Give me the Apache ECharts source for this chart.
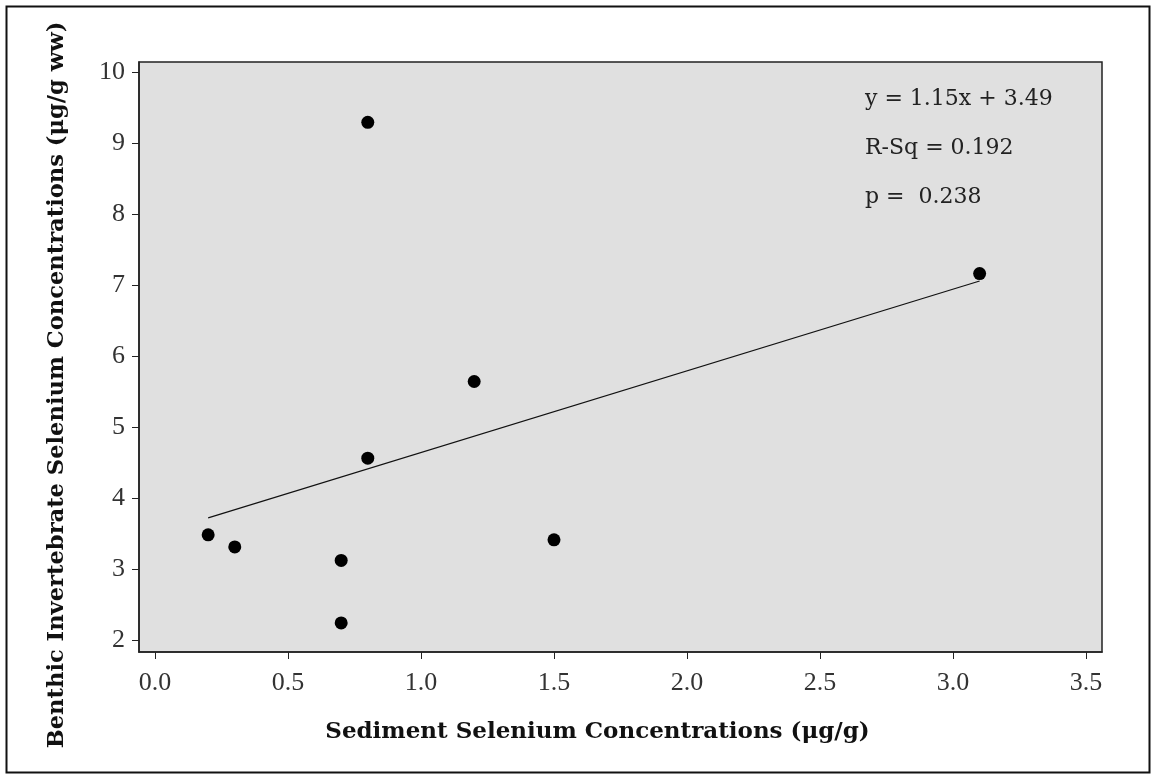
<!DOCTYPE html>
<html>
<head>
<meta charset="utf-8">
<script src="https://cdn.jsdelivr.net/npm/echarts@6/dist/echarts.min.js"></script>
<style>
  html, body { margin: 0; padding: 0; background: #fff; }
  #chart { width: 1151px; height: 774px; }
</style>
</head>
<body>
<div id="chart"></div>
<script>
// sediment Se (x) vs benthic invertebrate Se (y)
const sedimentSe = [0.2, 0.3, 0.7, 0.7, 0.8, 0.8, 1.2, 1.5, 3.1]
const invertSe = [3.48, 3.31, 3.12, 2.24, 4.56, 9.29, 5.64, 3.41, 7.16]
// fitted line y = 1.15x + 3.49, drawn across the data range
const fitX = [0.2, 3.1]
const fitY = [3.72, 7.055]
const xTicks = [0, 0.5, 1, 1.5, 2, 2.5, 3, 3.5]
const yTicks = [2, 3, 4, 5, 6, 7, 8, 9, 10]
const statLines = ['y = 1.15x + 3.49', 'R-Sq = 0.192', 'p =  0.238']

const serif = 'DejaVu Serif'
const tickFont = 'Liberation Serif'
const chart = echarts.init(document.getElementById('chart'))

const option = {
    backgroundColor: '#fff',
    animation: false,
    grid: {
        left: 139,
        right: 49,
        top: 62,
        bottom: 122,
        show: true,
        backgroundColor: '#e0e0e0',
        borderColor: '#222',
        borderWidth: 1.5
    },
    xAxis: {
        type: 'value',
        min: -0.06,
        max: 3.56,
        splitLine: { show: false },
        axisLine: { show: true, onZero: false, lineStyle: { color: '#222', width: 1.5 } },
        axisTick: { show: true, length: 7, customValues: xTicks, lineStyle: { color: '#222' } },
        axisLabel: {
            customValues: xTicks,
            margin: 18,
            color: '#333',
            fontFamily: tickFont,
            fontSize: 26,
            formatter: v => v.toFixed(1)
        },
        name: 'Sediment Selenium Concentrations (μg/g)',
        nameLocation: 'middle',
        nameGap: 69,
        nameTextStyle: {
            color: '#111', fontFamily: serif, fontWeight: 'bold', fontSize: 23,
            padding: [0, 46, 0, 0]
        }
    },
    yAxis: {
        type: 'value',
        min: 1.83,
        max: 10.14,
        splitLine: { show: false },
        axisLine: { show: true, onZero: false, lineStyle: { color: '#222', width: 1.5 } },
        axisTick: { show: true, length: 7, customValues: yTicks, lineStyle: { color: '#222' } },
        axisLabel: {
            customValues: yTicks,
            margin: 14,
            color: '#333',
            fontFamily: tickFont,
            fontSize: 26
        },
        name: 'Benthic Invertebrate Selenium Concentrations (μg/g ww)',
        nameLocation: 'middle',
        nameGap: 70,
        nameTextStyle: {
            color: '#111', fontFamily: serif, fontWeight: 'bold', fontSize: 22.6,
            padding: [0, 56, 0, 0]
        }
    },
    series: [
        {
            type: 'scatter',
            data: sedimentSe.map((x, i) => [x, invertSe[i]]),
            symbol: 'circle',
            symbolSize: 13,
            itemStyle: { color: '#000', opacity: 1 },
            z: 3
        },
        {
            type: 'line',
            data: fitX.map((x, i) => [x, fitY[i]]),
            showSymbol: false,
            lineStyle: { color: '#111', width: 1.2 },
            z: 2
        }
    ],
    graphic: [
        {
            type: 'rect',
            left: 4,
            top: 4,
            shape: { width: 1143, height: 766 },
            style: { fill: 'none', stroke: '#111', lineWidth: 2 },
            silent: true
        },
        ...statLines.map((t, i) => ({
            type: 'text',
            left: 865,
            top: 88 + i * 49,
            style: { text: t, fill: '#222', font: '22px "DejaVu Serif"' },
            z: 10
        }))
    ]
}

chart.setOption(option)
window.addEventListener('resize', () => chart.resize())
</script>
</body>
</html>
